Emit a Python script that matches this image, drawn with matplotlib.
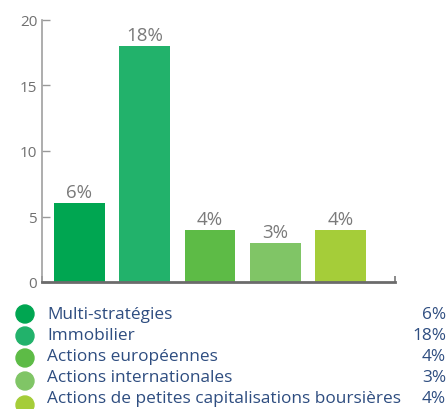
import matplotlib.pyplot as plt
from matplotlib.patches import Ellipse

# Data
categories = ["Multi-stratégies", "Immobilier", "Actions européennes",
              "Actions internationales", "Actions de petites capitalisations boursières"]
values = [6, 18, 4, 3, 4]
colors = ["#00a651", "#22b26b", "#5dbb46", "#80c566", "#a5cd39"]
yticks = [0, 5, 10, 15, 20]

plt.rcParams['font.family'] = ['Open Sans', 'DejaVu Sans']

W, H = 446, 410
fig = plt.figure(figsize=(W / 100, H / 100), dpi=100)
ax = fig.add_axes([42 / W, 1 - 283 / H, (395 - 42) / W, (283 - 21) / H])

x = list(range(len(values)))
bars = ax.bar(x, values, width=0.78, color=colors, zorder=2)
for xi, v in zip(x, values):
    ax.text(xi, v + 0.15, f"{v}%", ha='center', va='bottom', fontsize=13.5, color='#7a7a7a')

ax.set_xlim(-0.574, 4.835)
ax.set_ylim(0, 20)
ax.set_yticks(yticks)
ax.tick_params(axis='y', direction='in', length=6, width=1, color='#999999',
               labelcolor='#707070', labelsize=11, pad=3.5)
ax.set_xticks([-0.574, 4.835])
ax.set_xticklabels([])
ax.tick_params(axis='x', direction='in', length=4, width=1.2, color='#777777')

for s in ['top', 'right']:
    ax.spines[s].set_visible(False)
ax.spines['left'].set_color('#a0a0a0')
ax.spines['left'].set_linewidth(1.2)
ax.spines['bottom'].set_color('#6b6b6b')
ax.spines['bottom'].set_linewidth(2)

# Legend drawn below the chart
text_rows = [315, 336, 357, 378, 399]
circle_rows = [315, 337, 359, 382, 406]
for name, v, c, ty, cy in zip(categories, values, colors, text_rows, circle_rows):
    fig.add_artist(Ellipse((25 / W, 1 - cy / H), 18 / W, 18 / H,
                           transform=fig.transFigure, color=c))
    fig.text(47 / W, 1 - ty / H, name, ha='left', va='center', fontsize=12.4, color='#2e4d80')
    fig.text(446 / W, 1 - ty / H, f"{v}%", ha='right', va='center', fontsize=12.4, color='#2e4d80')

fig.savefig("out.png", dpi=100)
